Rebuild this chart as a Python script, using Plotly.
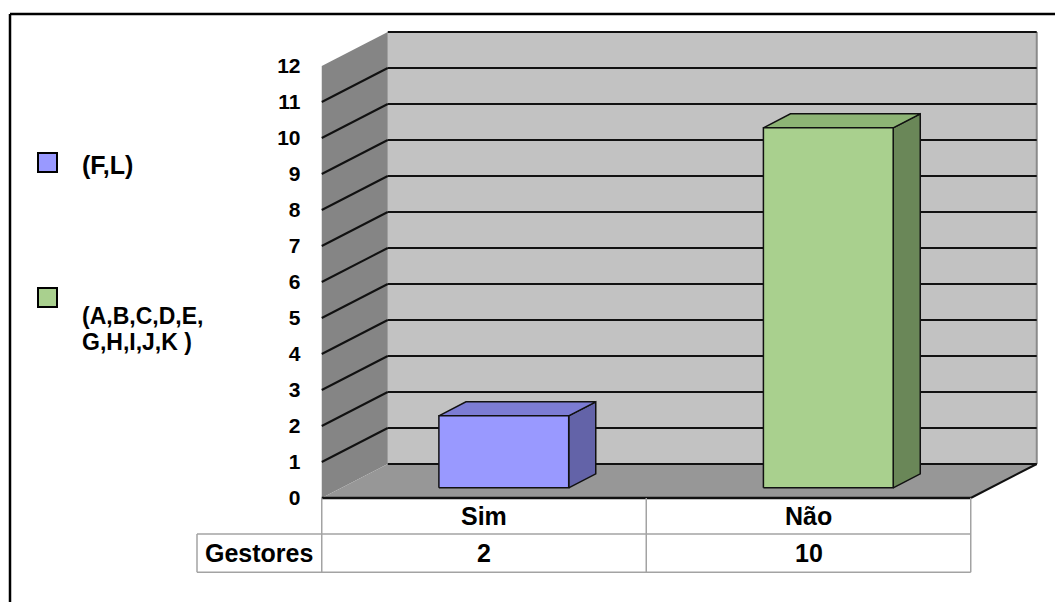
import plotly.graph_objects as go

# ---------------- data ----------------
categories = ["Sim", "Não"]
values = [2, 10]
row_label = "Gestores"
legend_line1 = ["(F,L)", "(A,B,C,D,E,"]
legend_line2 = ["", "G,H,I,J,K )"]
y_ticks = list(range(0, 13))

# ---------------- style ----------------
W, H = 1055, 602
FONT = "Liberation Sans, Arial, sans-serif"
front_cols = ["#9999ff", "#a9d08e"]
top_cols = ["#7c7cd4", "#8db475"]
side_cols = ["#6363a8", "#6a8758"]
BACK = "#c2c2c2"
SIDE = "#858585"
FLOOR = "#979797"

# axis-unit geometry (front plane: x category units, y value units)
X0_PIX, Y0_PIX = 484.0, 498.0      # pixel of (x=0, v=0) on the front plane
SX, SY = 324.5, 36.0               # px per unit
DX, DY = 66.0 / SX, 34.0 / SY      # full depth offset in units
XL, XR = -0.5, 1.5                 # floor x extent
VMAX = 12
F1, F2 = 0.30, 0.71                # bar depth (fraction of floor depth)
BW = 0.40                          # bar width

def P(x, v, f):
    return x + f * DX, v + f * DY

def poly(pts, fill, line_col="rgba(0,0,0,0)", lw=0):
    xs = [p[0] for p in pts] + [pts[0][0]]
    ys = [p[1] for p in pts] + [pts[0][1]]
    return go.Scatter(x=xs, y=ys, mode="lines", fill="toself", fillcolor=fill,
                      line=dict(color=line_col, width=lw), hoverinfo="skip",
                      showlegend=False)

def seg(a, b, col="black", lw=2):
    return go.Scatter(x=[a[0], b[0]], y=[a[1], b[1]], mode="lines",
                      line=dict(color=col, width=lw), hoverinfo="skip",
                      showlegend=False)

fig = go.Figure()

# walls
fig.add_trace(poly([P(XL, 0, 1), P(XR, 0, 1), P(XR, VMAX, 1), P(XL, VMAX, 1)], BACK))
fig.add_trace(poly([P(XL, 0, 0), P(XL, VMAX, 0), P(XL, VMAX, 1), P(XL, 0, 1)], SIDE))
fig.add_trace(poly([P(XL, 0, 0), P(XR, 0, 0), P(XR, 0, 1), P(XL, 0, 1)], FLOOR))

# back wall right edge
fig.add_trace(seg(P(XR, 0, 1), P(XR, VMAX, 1), "#8a8a8a", 2))

# gridlines
for v in y_ticks:
    fig.add_trace(seg(P(XL, v, 1), P(XR, v, 1), "#111111", 2))
    if 0 < v < VMAX:
        fig.add_trace(seg(P(XL, v, 0), P(XL, v, 1), "#111111", 2))

# floor front & right edges
fig.add_trace(seg(P(XL, 0, 0), P(XR, 0, 0), "#111111", 2.5))
fig.add_trace(seg(P(XR, 0, 0), P(XR, 0, 1), "#111111", 2))

# bars
for i, (cat, val) in enumerate(zip(categories, values)):
    xl, xr = i - BW / 2, i + BW / 2
    fig.add_trace(poly([P(xr, 0, F1), P(xr, 0, F2), P(xr, val, F2), P(xr, val, F1)],
                       side_cols[i], "#111111", 1.5))
    fig.add_trace(poly([P(xl, val, F1), P(xr, val, F1), P(xr, val, F2), P(xl, val, F2)],
                       top_cols[i], "#111111", 1.5))
    fig.add_trace(poly([P(xl, 0, F1), P(xr, 0, F1), P(xr, val, F1), P(xl, val, F1)],
                       front_cols[i], "#111111", 1.5))

# ---------------- data table ----------------
GRID = "#a3a3a3"
TFS = 25
row1_bot = -1.0
row2_bot = -2.06
label_left = (197 - X0_PIX) / SX
shapes = []
for xb in [XL, 0.5, XR]:
    shapes.append(dict(type="line", xref="x", yref="y", x0=xb, x1=xb, y0=0, y1=row2_bot,
                       line=dict(color=GRID, width=1.5)))
shapes.append(dict(type="line", xref="x", yref="y", x0=label_left, x1=label_left,
                   y0=row1_bot, y1=row2_bot, line=dict(color=GRID, width=1.5)))
for yb in [row1_bot, row2_bot]:
    shapes.append(dict(type="line", xref="x", yref="y", x0=label_left, x1=XR, y0=yb, y1=yb,
                       line=dict(color=GRID, width=1.5)))

annotations = []
for i, (cat, val) in enumerate(zip(categories, values)):
    annotations.append(dict(x=i, y=row1_bot / 2, xref="x", yref="y", text=f"<b>{cat}</b>",
                            showarrow=False, font=dict(family=FONT, size=TFS, color="black"),
                            xanchor="center", yanchor="middle"))
    annotations.append(dict(x=i, y=(row1_bot + row2_bot) / 2, xref="x", yref="y",
                            text=f"<b>{val}</b>", showarrow=False,
                            font=dict(family=FONT, size=TFS, color="black"),
                            xanchor="center", yanchor="middle"))
annotations.append(dict(x=(label_left + XL) / 2, y=(row1_bot + row2_bot) / 2, xref="x", yref="y",
                        text=f"<b>{row_label}</b>", showarrow=False,
                        font=dict(family=FONT, size=TFS, color="black"),
                        xanchor="center", yanchor="middle"))

# ---------------- legend (drawn) ----------------
def pxx(p):
    return p / W

def pyy(p):
    return 1 - p / H

LFS = 23
legend_sq_top = [153, 288]
legend_text_y1 = [165, 316]
legend_text_y2 = [None, 342]
for i in range(len(categories)):
    shapes.append(dict(type="rect", xref="paper", yref="paper",
                       x0=pxx(38), x1=pxx(57), y0=pyy(legend_sq_top[i]), y1=pyy(legend_sq_top[i] + 19),
                       fillcolor=front_cols[i], line=dict(color="black", width=2)))
    annotations.append(dict(x=pxx(80), y=pyy(legend_text_y1[i]), xref="paper", yref="paper",
                            text=f"<b>{legend_line1[i]}</b>", showarrow=False,
                            font=dict(family=FONT, size=LFS + (2 if i == 0 else 0), color="black"),
                            xanchor="left", yanchor="middle"))
    if legend_line2[i]:
        annotations.append(dict(x=pxx(80), y=pyy(legend_text_y2[i]), xref="paper", yref="paper",
                                text=f"<b>{legend_line2[i]}</b>", showarrow=False,
                                font=dict(family=FONT, size=LFS, color="black"),
                                xanchor="left", yanchor="middle"))

# outer frame (top and left)
shapes.append(dict(type="line", xref="paper", yref="paper", x0=pxx(10), x1=pxx(10),
                   y0=0, y1=pyy(14), line=dict(color="black", width=2.5)))
shapes.append(dict(type="line", xref="paper", yref="paper", x0=pxx(10), x1=1,
                   y0=pyy(14), y1=pyy(14), line=dict(color="black", width=2.5)))

fig.update_layout(
    width=W, height=H,
    margin=dict(l=0, r=0, t=0, b=0),
    paper_bgcolor="white", plot_bgcolor="white",
    showlegend=False,
    xaxis=dict(range=[-X0_PIX / SX, (W - X0_PIX) / SX], visible=False, fixedrange=True),
    yaxis=dict(range=[-(H - Y0_PIX) / SY, Y0_PIX / SY], anchor="free",
               position=(X0_PIX + XL * SX) / W,
               tickvals=y_ticks, ticktext=[str(t) for t in y_ticks],
               showgrid=False, zeroline=False, showline=False,
               ticks="outside", ticklen=17, tickcolor="rgba(0,0,0,0)",
               tickfont=dict(family=FONT, size=21, color="black", weight="bold"),
               fixedrange=True),
    shapes=shapes,
    annotations=annotations,
)

fig.write_html("out.html")
